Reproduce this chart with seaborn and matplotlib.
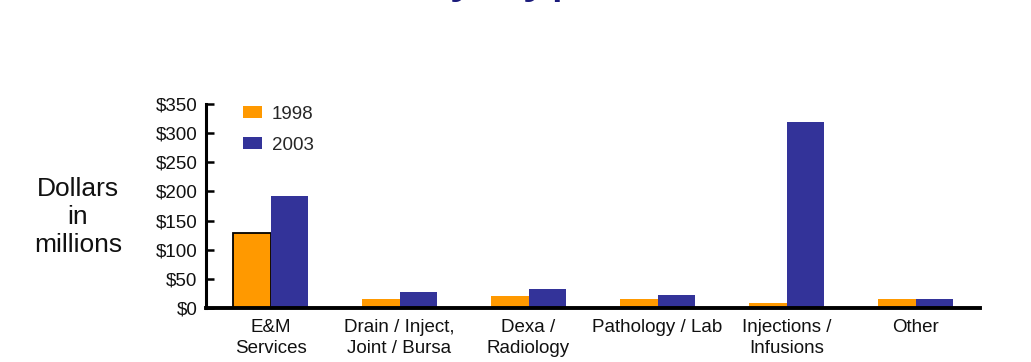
import matplotlib
matplotlib.use("Agg")
import matplotlib.pyplot as plt
import seaborn as sns
import pandas as pd

categories = ["E&M\nServices", "Drain / Inject,\nJoint / Bursa", "Dexa /\nRadiology",
              "Pathology / Lab", "Injections /\nInfusions", "Other"]
years = ["1998", "2003"]
spend_1998 = [129, 16, 21, 16, 8, 15]
spend_2003 = [192, 28, 32, 23, 319, 15]
y_ticks = [0, 50, 100, 150, 200, 250, 300, 350]
y_tick_labels = ["$0", "$50", "$100", "$150", "$200", "$250", "$300", "$350"]

df = pd.DataFrame({
    "category": categories * 2,
    "year": [years[0]] * len(categories) + [years[1]] * len(categories),
    "spend": spend_1998 + spend_2003,
})

sns.set_theme(style="white")
plt.rcParams["font.family"] = ["Liberation Sans", "DejaVu Sans"]

fig = plt.figure(figsize=(10.31, 3.62), dpi=100)
ax = fig.add_axes([206 / 1031, 54 / 362, 774 / 1031, 204 / 362])

sns.barplot(data=df, x="category", y="spend", hue="year", order=categories,
            hue_order=years, palette=["#FF9900", "#333399"], width=0.575,
            saturation=1, ax=ax, linewidth=0, legend=True)

# outline on the first orange bar
first = ax.patches[0]
first.set_edgecolor("black")
first.set_linewidth(1.3)

ax.set_xlim(-0.5, 5.5)
ax.set_ylim(0, 350)
ax.set_yticks(y_ticks)
ax.set_yticklabels(y_tick_labels, fontsize=13.5, color="#111111")
ax.tick_params(axis="y", direction="in", length=6, width=1.8, color="black", pad=6, left=True)
ax.tick_params(axis="x", length=0, pad=8, labelsize=13.5, labelcolor="#111111")
for lab in ax.get_xticklabels():
    lab.set_linespacing(1.3)
ax.set_xlabel("")
ax.set_ylabel("")

for side in ["top", "right"]:
    ax.spines[side].set_visible(False)
ax.spines["left"].set_linewidth(2.2)
ax.spines["left"].set_color("black")
ax.spines["bottom"].set_linewidth(2.8)
ax.spines["bottom"].set_color("black")

leg = ax.legend(loc="upper left", bbox_to_anchor=(0.026, 1.075), frameon=False,
                fontsize=13.5, handlelength=1.0, handleheight=0.55,
                handletextpad=0.55, labelspacing=0.75)
for h in leg.legend_handles:
    h.set_linewidth(0)

fig.text(78 / 1031, 1 - 217 / 362, "Dollars\nin\nmillions", ha="center", va="center",
         fontsize=19, color="#111111", linespacing=1.22)

fig.text(225 / 1031, 1 + 10 / 362, "Growth by Type of Service", ha="left", va="baseline",
         fontsize=40, color="#1a1a7a")

fig.savefig("out.png", dpi=100)
